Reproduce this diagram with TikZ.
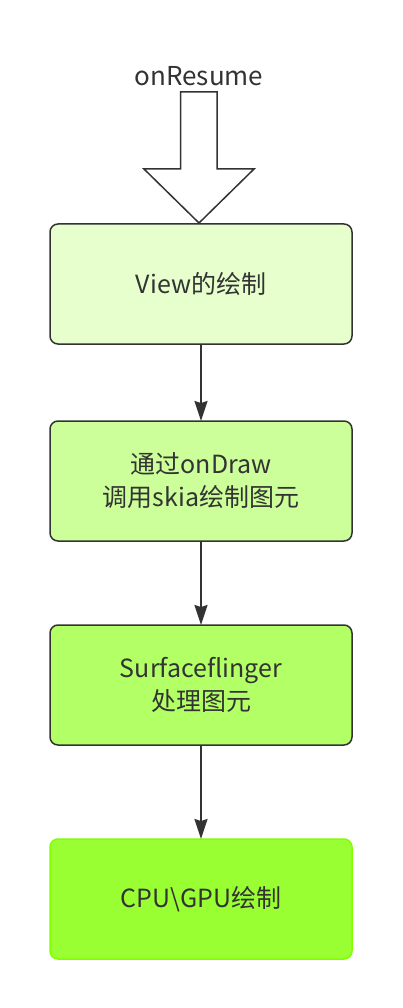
\documentclass[tikz,border=0pt]{standalone}
\usepackage{fontspec}
\setmainfont{Noto Sans CJK SC}
\usetikzlibrary{arrows.meta}
\definecolor{ink}{HTML}{333333}
\tikzstyle{stepA}=[draw=ink,line width=1.5pt,rounded corners=8pt,minimum width=302pt,minimum height=120pt,outer sep=0pt,align=center,text=ink,font=\fontsize{25}{33}\selectfont]
\tikzstyle{into}=[<-,>={Stealth[length=20pt,width=13pt,inset=2pt]},draw=ink,line width=1.5pt]

\begin{document}
\begin{tikzpicture}[x=1pt,y=-1pt]
            \useasboundingbox (0,0) rectangle (402,1008);
            % onResume block arrow
            \node[text=ink,font=\fontsize{26}{30}\selectfont,anchor=base] (resume) at (199,86) {onResume};
            \draw[draw=ink,fill=white,line width=1.5pt,line join=miter]
                (180.5,92) -- (217,92) -- (217,169) -- (254,169) -- (199,223)
                -- (144,169) -- (180.5,169) -- cycle;
            \node[stepA,fill={rgb,255:red,230;green,255;blue,204}] (view) at (201,284) {View的绘制}
            ;
            \node[stepA,fill={rgb,255:red,204;green,255;blue,153}] (ondraw) at (201,481) {通过onDraw\\调用skia绘制图元}
                edge[into] (view)
            ;
            \node[stepA,fill={rgb,255:red,179;green,255;blue,102}] (flinger) at (201,685) {Surfaceflinger\\处理图元}
                edge[into] (ondraw)
            ;
            \node[stepA,draw={rgb,255:red,128;green,255;blue,0},fill={rgb,255:red,153;green,255;blue,51}] (gpu) at (201,899) {CPU\textbackslash GPU绘制}
                edge[into] (flinger)
            ;
        \end{tikzpicture}
\end{document}
